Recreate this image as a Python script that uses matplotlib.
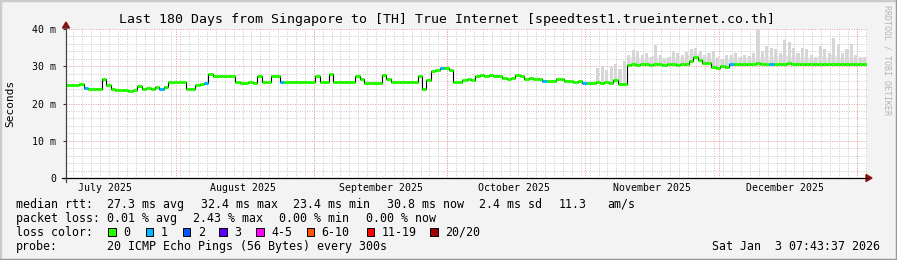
import numpy as np
import matplotlib
matplotlib.use("Agg")
import matplotlib.pyplot as plt
from matplotlib.patches import Rectangle, Polygon
from matplotlib.lines import Line2D
from datetime import datetime

# ---------------- data ----------------
start = datetime(2025, 7, 7, 7, 43, 37)
n_days = 180

# daily median rtt (ms)
median = [
    24.9, 24.9, 24.9, 25.2, 24.1, 23.9, 23.8, 23.8, 26.6, 25.1,   # 0-9
    23.8, 23.7, 23.5, 23.6, 23.4, 23.7, 24.8, 23.9, 24.2, 23.8,   # 10-19
    24.3, 23.9, 24.5, 25.7, 25.8, 25.7, 25.8, 24.0, 23.9, 25.0,   # 20-29
    25.3, 25.6, 27.9, 27.5, 27.5, 27.4, 27.5, 27.3, 25.8, 25.6,   # 30-39
    25.5, 25.7, 25.6, 27.3, 25.9, 25.9, 27.5, 27.4, 25.9, 25.9,   # 40-49
    25.9, 25.9, 25.9, 25.9, 25.9, 25.9, 27.4, 25.9, 25.9, 28.0,   # 50-59
    25.9, 25.9, 25.9, 25.9, 25.9, 27.5, 26.5, 25.5, 25.5, 25.4,   # 60-69
    25.5, 27.7, 26.5, 25.9, 25.9, 25.9, 25.9, 25.9, 25.9, 27.4,   # 70-79
    24.0, 26.2, 28.6, 29.0, 29.4, 29.5, 29.0, 25.8, 25.7, 26.4,   # 80-89
    26.6, 26.3, 27.3, 27.6, 27.4, 27.6, 27.5, 27.3, 26.9, 26.7,   # 90-99
    26.8, 27.6, 27.4, 26.7, 26.8, 26.6, 26.7, 26.0, 26.1, 26.0,   # 100-109
    26.6, 26.5, 26.0, 26.1, 25.9, 26.0, 25.6, 25.5, 25.4, 25.7,   # 110-119
    25.5, 25.8, 25.5, 26.3, 25.3, 25.2, 30.3, 30.5, 30.4, 30.6,   # 120-129
    30.5, 30.4, 30.6, 30.5, 30.3, 30.6, 30.5, 30.4, 30.6, 30.5,   # 130-139
    31.5, 32.4, 31.8, 30.8, 30.9, 29.8, 29.4, 30.0, 29.7, 30.7,   # 140-149
    30.6, 30.7, 30.6, 30.7, 30.6, 30.8, 30.7, 30.6, 30.7, 30.6,   # 150-159
    30.7, 30.6, 30.8, 30.7, 30.6, 30.7, 30.6, 30.7, 30.6, 30.7,   # 160-169
    30.6, 30.7, 30.6, 30.7, 30.7, 30.6, 30.7, 30.6, 30.7, 30.7,   # 170-179
]

# daily highest smoke spike (ms); None where no smoke shows
smoke_top = [None] * 119 + [
    29.5, 30.0, 29.0, 29.8, 30.5, 29.3, 31.5, 33.0, 34.4, 34.0,   # 119-128
    33.0, 33.5, 32.5, 35.7, 33.0, 32.0, 32.5, 34.0, 33.5, 33.0,   # 129-138
    33.8, 34.5, 35.0, 34.0, 33.0, 33.5, 34.0, 32.5, 32.0, 33.0,   # 139-148
    33.0, 33.5, 32.5, 33.0, 32.8, 33.5, 40.3, 34.0, 35.5, 35.0,   # 149-158
    34.5, 33.5, 37.0, 36.5, 35.0, 33.5, 35.0, 34.5, 33.0, 32.5,   # 159-168
    35.5, 34.5, 33.5, 37.5, 36.0, 33.5, 34.5, 36.0, 33.0, 32.5,   # 169-178
    32.5,                                                         # 179
]
# daily upper edge of the dense smoke band (ms)
smoke_band = [None] * 126 + [
    32.2, 32.5, 32.3, 32.0, 32.6, 32.2, 32.8, 32.3, 32.1, 32.5,   # 126-135
    32.3, 32.6, 32.2, 32.5, 33.3, 33.6, 33.2, 32.4, 32.5, 31.9,   # 136-145
    31.6, 32.0, 31.8, 32.4, 32.3, 32.5, 32.2, 32.6, 32.3, 32.7,   # 146-155
    32.5, 32.8, 32.6, 32.4, 32.3, 33.0, 32.7, 32.5, 32.2, 32.6,   # 156-165
    32.4, 32.2, 32.5, 32.8, 32.4, 32.3, 32.9, 32.6, 32.3, 32.7,   # 166-175
    32.5, 32.2, 32.3, 32.2,                                       # 176-179
]

# days with 1 lost ping (coloured light blue)
loss1_days = [4, 21, 31, 48, 84, 107, 116, 149, 158]

loss_labels = ["0", "1", "2", "3", "4-5", "6-10", "11-19", "20/20"]
loss_colors = ["#26ff00", "#00b8ff", "#0059ff", "#5e00ff", "#ff00ff",
               "#ff5500", "#ff0000", "#a10000"]

y_ticks = [0, 10, 20, 30, 40]
y_ticklabels = ["0", "10 m", "20 m", "30 m", "40 m"]

title = "Last 180 Days from Singapore to [TH] True Internet [speedtest1.trueinternet.co.th]"
rtt_fields = ["median rtt:", "27.3 ms avg", "32.4 ms max", "23.4 ms min",
              "30.8 ms now", "2.4 ms sd", "11.3", "am/s"]
loss_fields = ["packet loss:", "0.01 % avg", "2.43 % max", "0.00 % min", "0.00 % now"]
probe_fields = ["probe:", "20 ICMP Echo Pings (56 Bytes) every 300s"]
stamp = "Sat Jan  3 07:43:37 2026"

# ---------------- layout ----------------
W, H = 897, 260
MONO = "DejaVu Sans Mono"
BG = "#f3f3f3"

def fx(x):
    return x / W

def fy(y):
    return 1 - y / H

fig = plt.figure(figsize=(W / 100, H / 100), dpi=100, facecolor=BG)
X0, X1, YT, YB = 66, 867, 29, 178
ax = fig.add_axes([fx(X0), fy(YB), (X1 - X0) / W, (YB - YT) / H])
ax.set_facecolor("white")
ax.set_xlim(0, n_days)
ax.set_ylim(0, 40)
for s in ax.spines.values():
    s.set_visible(False)

def dday(dt):
    return (dt - start).total_seconds() / 86400.0

# minor grid
for v in np.arange(2, 40, 2):
    if v % 10:
        ax.axhline(v, color="#c8c8c8", lw=0.7, ls=(0, (1, 1.5)), zorder=0)
epoch_day0 = (start - datetime(1970, 1, 1)).total_seconds() / 86400.0
first = np.ceil(epoch_day0 / 2) * 2
for ed in np.arange(first, epoch_day0 + n_days, 2):
    ax.axvline(ed - epoch_day0, color="#c8c8c8", lw=0.7, ls=(0, (1, 1.5)), zorder=0)
# major grid
for v in [10, 20, 30, 40]:
    ax.axhline(v, color="#e89a9a", lw=0.7, ls=(0, (1, 1.5)), zorder=0.5)
months = [datetime(2025, m, 1) for m in range(8, 13)] + [datetime(2026, 1, 1)]
for m in months:
    ax.axvline(dday(m), color="#e89a9a", lw=0.7, ls=(0, (1, 1.5)), zorder=0.5)

days = np.arange(n_days)
med = np.array(median)

# smoke: dense band + spikes
bd = np.array([d for d, t in zip(days, smoke_band) if t is not None])
bt = np.array([t for t in smoke_band if t is not None])
ax.bar(bd, bt - (med[bd] - 0.4), bottom=med[bd] - 0.4, width=1.0, align="edge",
       color="#e4e4e4", edgecolor="none", zorder=1)
sx = np.array([d for d, t in zip(days, smoke_top) if t is not None])
st = np.array([t for t in smoke_top if t is not None])
ax.bar(sx + 0.15, st - (med[sx] - 0.4), bottom=med[sx] - 0.4, width=0.7, align="edge",
       color="#d6d6d6", edgecolor="none", zorder=1.1)

# median: black step line + loss coloured horizontal segments
ax.stairs(med, np.arange(n_days + 1), color="black", lw=0.8, baseline=None, zorder=2)
cols = [loss_colors[1] if d in loss1_days else loss_colors[0] for d in days]
ax.hlines(med, days, days + 1, colors=cols, lw=2.2, zorder=3)

# ticks
ax.set_yticks(y_ticks)
ax.set_yticklabels(y_ticklabels, fontfamily=MONO, fontsize=7.1)
ax.tick_params(axis="y", length=2, width=0.8, color="#333333", pad=5)
mid = [datetime(2025, m, 16) for m in range(7, 13)]
ax.set_xticks([dday(m) for m in mid])
ax.set_xticklabels([m.strftime("%B %Y") for m in mid], fontfamily=MONO, fontsize=7.1)
ax.tick_params(axis="x", length=0, pad=3.5)

# axes lines with arrows
fig.add_artist(Line2D([fx(62), fx(867)], [fy(178), fy(178)], color="black", lw=0.9))
fig.add_artist(Line2D([fx(66), fx(66)], [fy(182), fy(27)], color="#444444", lw=0.9))
fig.add_artist(Polygon([[fx(866), fy(174.5)], [fx(866), fy(181.5)], [fx(872), fy(178)]],
                       closed=True, color="#8b1010"))
fig.add_artist(Polygon([[fx(62.5), fy(28)], [fx(69.5), fy(28)], [fx(66), fy(22)]],
                       closed=True, color="#8b1010"))

# texts
fig.text(fx(446.5), fy(19), title, family=MONO, fontsize=9.5, ha="center", va="center")
fig.text(fx(10), fy(103), "Seconds", family=MONO, fontsize=8, rotation=90,
         ha="center", va="center")
fig.text(fx(887), fy(60), "RRDTOOL / TOBI OETIKER", family=MONO, fontsize=6,
         color="#b4b4b4", rotation=270, ha="center", va="center")

rtt_x = [16, 107.3, 200.7, 293.3, 386.7, 479.3, 558.3, 607.3]
loss_x = [16, 107.3, 193.3, 279.3, 365.7]
probe_x = [16, 107.3]
for row_y, fields, xs in [(204.3, rtt_fields, rtt_x), (218.3, loss_fields, loss_x),
                          (246.3, probe_fields, probe_x)]:
    for t, x in zip(fields, xs):
        fig.text(fx(x), fy(row_y), t, family=MONO, fontsize=8.4, ha="left", va="center")
fig.text(fx(16), fy(232.3), "loss color:", family=MONO, fontsize=8.4, ha="left", va="center")
box_x = [108, 145.7, 182.7, 219.3, 256, 306.7, 366.7, 430]
for bx, lab, c in zip(box_x, loss_labels, loss_colors):
    fig.add_artist(Rectangle((fx(bx), fy(235.7)), 7.5 / W, 8 / H, facecolor=c,
                             edgecolor="black", lw=0.7))
    fig.text(fx(bx + 15), fy(232.3), lab, family=MONO, fontsize=8.4,
             ha="left", va="center")
fig.text(fx(880), fy(246.3), stamp, family=MONO, fontsize=8.4, ha="right", va="center")

# frame
fig.add_artist(Line2D([0, 0], [0, 1], color="#cbcbcb", lw=2.5))
fig.add_artist(Line2D([0, 1], [1, 1], color="#cbcbcb", lw=2.5))
fig.add_artist(Line2D([1, 1], [0, 1], color="#999999", lw=2.5))
fig.add_artist(Line2D([0, 1], [0, 0], color="#999999", lw=2.5))

fig.savefig("out.png", dpi=100, facecolor=BG)
